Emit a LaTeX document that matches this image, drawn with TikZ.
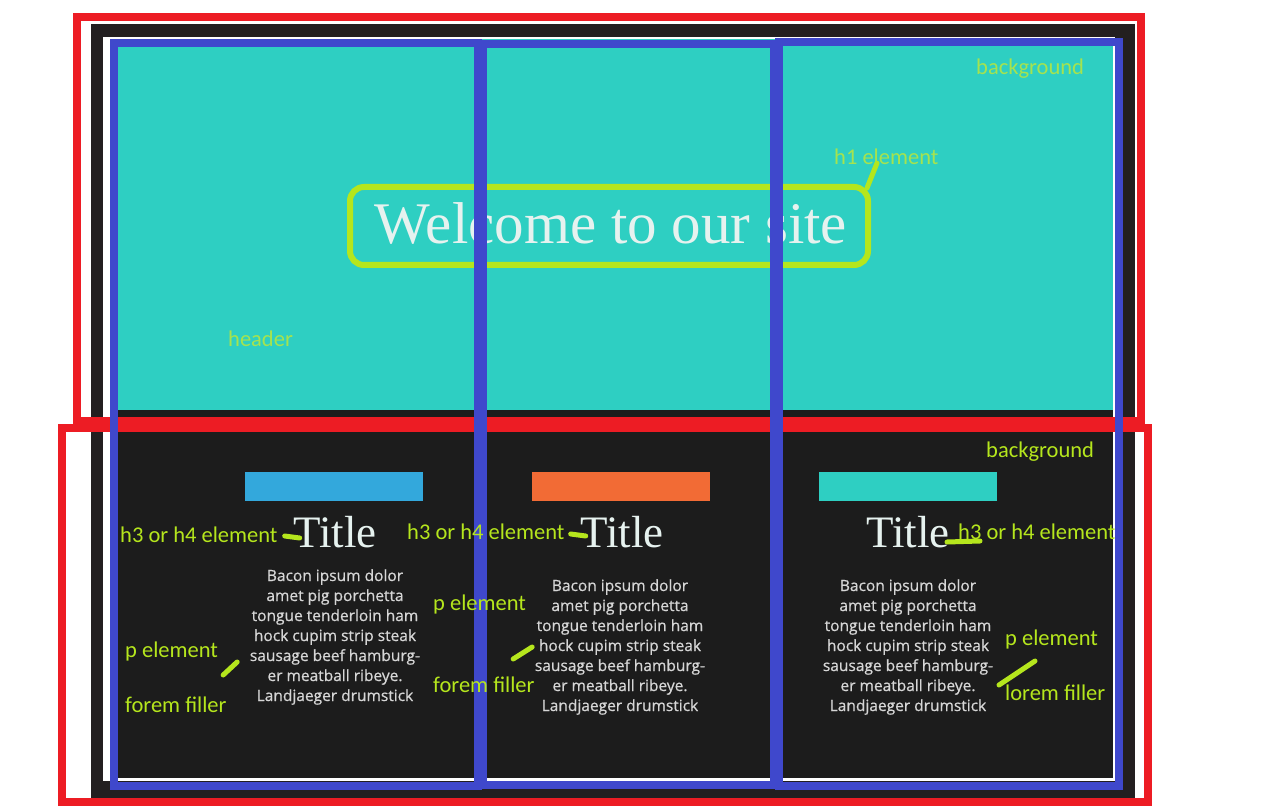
\documentclass[tikz,border=0pt]{standalone}
\usepackage{fontspec}
\usetikzlibrary{positioning, calc}
\setmainfont{Liberation Serif}
\newfontfamily\lblfont{Carlito}
\newfontfamily\parafont[FakeBold=0.7]{Open Sans}
\definecolor{frame}{HTML}{231F20}
\definecolor{body}{HTML}{1C1C1C}
\definecolor{teal}{HTML}{2ECFC2}
\definecolor{ink}{HTML}{E6F2EF}
\definecolor{paper}{HTML}{D6D6D6}
\definecolor{indigo}{HTML}{3F48CC}
\definecolor{alert}{HTML}{ED1C24}
\definecolor{lime}{HTML}{B5E61D}
\definecolor{limesoft}{HTML}{A5E34F}
\definecolor{sky}{HTML}{33A8DC}
\definecolor{flame}{HTML}{F26B35}

\begin{document}
\begin{tikzpicture}[
    x=1pt, y=-1pt,
    column/.style={draw=indigo, line width=8pt},
    region/.style={draw=alert, line width=8pt},
    bar/.style={inner sep=0pt, minimum width=178pt, minimum height=29pt},
    heading/.style={font=\fontsize{45}{45}\selectfont, text=ink, inner sep=0pt, anchor=base},
    para/.style={font=\parafont\fontsize{15.5}{20}\selectfont, text=paper, align=center, inner sep=0pt},
    lbl/.style={font=\lblfont\fontsize{22.5}{22.5}\selectfont, text=lime, inner sep=0pt, anchor=west},
    lblt/.style={lbl, text=limesoft},
    tickline/.style={draw=lime, line width=5pt, line cap=round},
]
\useasboundingbox[fill=white] (0,0) rectangle (1274,810);

% Screenshot of the page
\fill[frame] (91,24) rectangle (1135,800);
\fill[white] (103,37) rectangle (1115,781);
\fill[teal] (110,39) rectangle (1113,410);
\fill[body] (110,410) rectangle (1113,778);

\node[font=\fontsize{59}{59}\selectfont, text=ink, inner sep=0pt, anchor=base] (welcome) at (611,244) {Welcome to our site};

% Cards
\node[bar, fill=sky] (bar1) at (334,486) {};
\node[bar, fill=flame] (bar2) at (621,486) {};
\node[bar, fill=teal] (bar3) at (908,486) {};

\node[heading] (title1) at (335,547) {Title};
\node[heading] (title2) at (622,547) {Title};
\node[heading] (title3) at (908,547) {Title};

\node[para] (para1) at (335,637) {Bacon ipsum dolor\\amet pig porchetta\\tongue tenderloin ham\\hock cupim strip steak\\sausage beef hamburg-\\er meatball ribeye.\\Landjaeger drumstick};
\node[para] (para2) at (620,647) {Bacon ipsum dolor\\amet pig porchetta\\tongue tenderloin ham\\hock cupim strip steak\\sausage beef hamburg-\\er meatball ribeye.\\Landjaeger drumstick};
\node[para] (para3) at (908,647) {Bacon ipsum dolor\\amet pig porchetta\\tongue tenderloin ham\\hock cupim strip steak\\sausage beef hamburg-\\er meatball ribeye.\\Landjaeger drumstick};

% Annotations: regions
\draw[region] (77,17) rectangle (1141,421);
\draw[region] (62,428) rectangle (1148,802);

% h1 box
\node[draw=lime, line width=6pt, rounded corners=14pt, minimum width=518pt, minimum height=78pt] (h1box) at (609,226) {};

% Annotations: columns
\draw[column] (114,43) rectangle (478,786);
\draw[column] (483,44) rectangle (774,785);
\draw[column] (779,42) rectangle (1119,786);

% Labels
\node[lblt] (bgtop) at (976,69) {background};
\node[lblt] (h1lbl) at (834,157) {h1 element};
\node[lblt] (header) at (228,339) {header};
\node[lbl] (bgbot) at (986,452) {background};

\node[lbl] (h3a) at (120,535) {h3 or h4 element};
\node[lbl] (h3b) at (407,532) {h3 or h4 element};
\node[lbl] (h3c) at (958,532) {h3 or h4 element};

\node[lbl] (pa) at (125,651) {p element};
\node[lbl] (pb) at (433,604) {p element};
\node[lbl] (pc) at (1005,639) {p element};

\node[lbl] (fa) at (125,705) {forem filler};
\node[lbl] (fb) at (433,685) {forem filler};
\node[lbl] (fc) at (1005,693) {lorem filler};

% Pointer marks
\draw[tickline] ($(h1box.north east)+(-4,4)$) -- ($(h1lbl.south west)+(43,-2)$);
\draw[tickline] ($(h3a.east)+(7,1)$) -- ++(15,2);
\draw[tickline] ($(h3b.east)+(6,2)$) -- ++(15,2);
\draw[tickline] ($(h3c.west)+(-11,10)$) -- ++(33,-1);
\draw[tickline] ($(pa.east)+(5,24)$) -- ++(14,-13);
\draw[tickline] ($(pb.east)+(-13,55)$) -- ++(19,-12);
\draw[tickline] ($(pc.west)+(-6,46)$) -- ++(36,-24);

\end{tikzpicture}
\end{document}
